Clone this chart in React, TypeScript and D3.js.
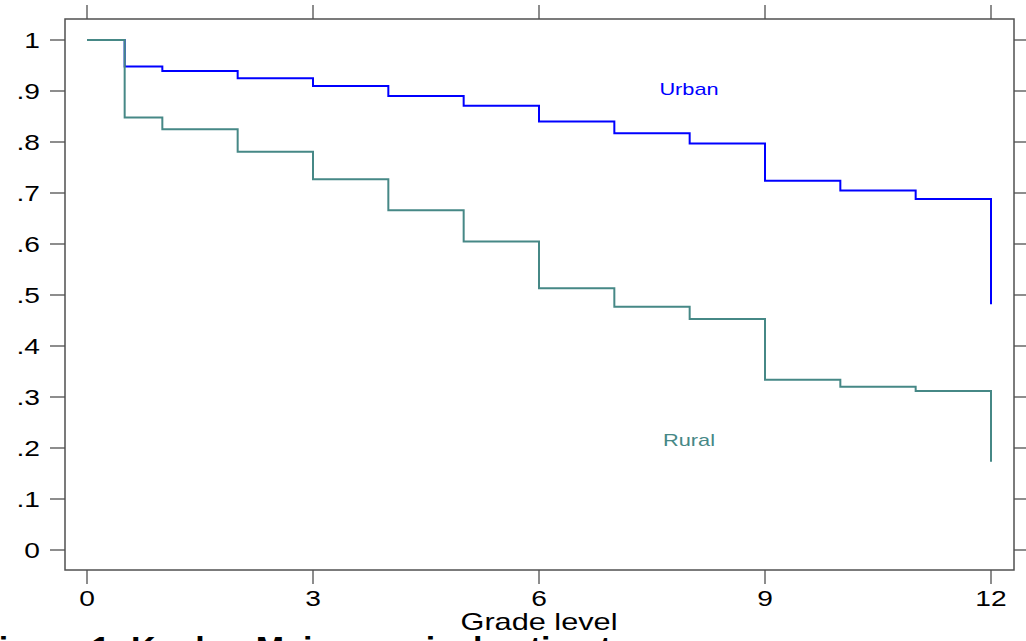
import React from "react";
import * as d3 from "d3";

const grades = [0, 0.5, 1, 2, 3, 4, 5, 6, 7, 8, 9, 10, 11, 12];
const urban = [1, 0.948, 0.939, 0.925, 0.91, 0.89, 0.871, 0.84, 0.817, 0.797, 0.724, 0.705, 0.688, 0.482];
const rural = [1, 0.848, 0.825, 0.781, 0.727, 0.666, 0.605, 0.513, 0.477, 0.453, 0.334, 0.32, 0.312, 0.173];
const xTicks = [0, 3, 6, 9, 12];
const yTicks = [0, 0.1, 0.2, 0.3, 0.4, 0.5, 0.6, 0.7, 0.8, 0.9, 1];
const yTickLabels = ["0", ".1", ".2", ".3", ".4", ".5", ".6", ".7", ".8", ".9", "1"];

const W = 1026;
const H = 641;
const frame = { left: 65, right: 1014, top: 19, bottom: 570 };
const URBAN_COLOR = "#0000ff";
const RURAL_COLOR = "#468886";
const AXIS_COLOR = "#505050";
const FONT = "'Liberation Sans', Arial, Helvetica, sans-serif";
const SX = 1.28;

function SText(props: {
  x: number;
  y: number;
  size: number;
  anchor?: string;
  fill?: string;
  weight?: string;
  dy?: string;
  sx?: number;
  children: React.ReactNode;
}) {
  const s = props.sx === undefined ? SX : props.sx;
  return (
    <text
      transform={`translate(${props.x},${props.y}) scale(${s},1)`}
      textAnchor={props.anchor || "start"}
      fontSize={props.size}
      fill={props.fill || "#000"}
      fontWeight={props.weight || "normal"}
      dy={props.dy}
    >
      {props.children}
    </text>
  );
}

export default function App() {
  const x = d3.scaleLinear().domain([0, 12]).range([87, 991]);
  const y = d3.scaleLinear().domain([0, 1]).range([550, 40]);
  const line = d3
    .line<number>()
    .x((_, i) => x(grades[i]))
    .y((d) => y(d))
    .curve(d3.curveStepAfter);

  return (
    <svg
      width={W}
      height={H}
      style={{ position: "absolute", left: 0, top: 0, background: "#fff" }}
      fontFamily={FONT}
    >
      <rect x={0} y={0} width={W} height={H} fill="#fff" />
      <rect
        x={frame.left}
        y={frame.top}
        width={frame.right - frame.left}
        height={frame.bottom - frame.top}
        fill="none"
        stroke={AXIS_COLOR}
        strokeWidth={1.5}
      />
      {yTicks.map((t, i) => (
        <g key={"y" + i}>
          <line x1={50} x2={frame.left} y1={y(t)} y2={y(t)} stroke={AXIS_COLOR} strokeWidth={1.3} />
          <line x1={frame.right} x2={1027} y1={y(t)} y2={y(t)} stroke={AXIS_COLOR} strokeWidth={1.3} />
          <SText x={40} y={y(t)} dy="0.36em" anchor="end" size={22}>
            {yTickLabels[i]}
          </SText>
        </g>
      ))}
      {xTicks.map((t) => (
        <g key={"x" + t}>
          <line x1={x(t)} x2={x(t)} y1={frame.bottom} y2={584} stroke={AXIS_COLOR} strokeWidth={1.3} />
          <line x1={x(t)} x2={x(t)} y1={5} y2={frame.top} stroke={AXIS_COLOR} strokeWidth={1.3} />
          <SText x={x(t)} y={606} anchor="middle" size={22}>
            {t}
          </SText>
        </g>
      ))}
      <SText x={x(6)} y={630} anchor="middle" size={24}>
        Grade level
      </SText>
      <path d={line(urban) || ""} fill="none" stroke={URBAN_COLOR} strokeWidth={2} />
      <path d={line(rural) || ""} fill="none" stroke={RURAL_COLOR} strokeWidth={2} />
      <SText x={689} y={95} anchor="middle" size={17} fill={URBAN_COLOR}>
        Urban
      </SText>
      <SText x={689} y={446} anchor="middle" size={17} fill={RURAL_COLOR}>
        Rural
      </SText>
      <SText x={-22} y={660} size={34} weight="bold" sx={1}>
        Figure 1: Kaplan-Meier survival estimates
      </SText>
    </svg>
  );
}
